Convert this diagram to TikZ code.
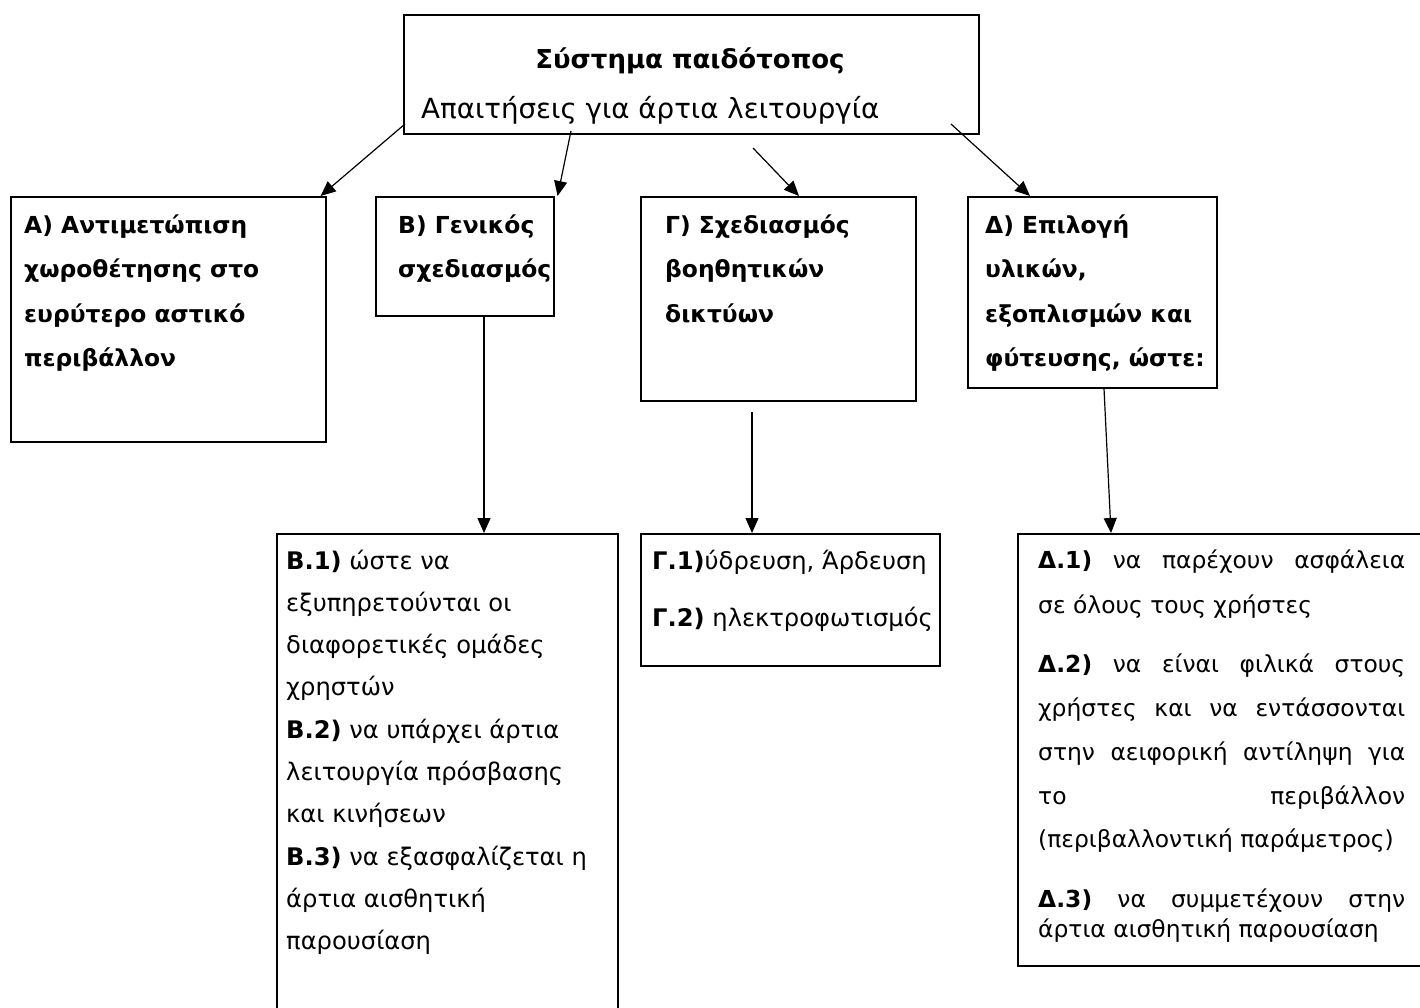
\documentclass[tikz,border=0pt]{standalone}
\usepackage{fontspec}
\setmainfont{DejaVu Sans}
\usetikzlibrary{arrows.meta,calc}
\begin{document}
\begin{tikzpicture}[x=1pt,y=-1pt,
  box/.style={draw, line width=1.6pt, inner sep=0pt, anchor=north west},
  ln/.style={anchor=base west, inner sep=0pt},
  hd/.style={ln, font=\fontsize{23.4}{28}\selectfont\bfseries},
  bd/.style={ln, font=\fontsize{24.2}{28}\selectfont},
  dd/.style={ln, font=\fontsize{23.4}{28}\selectfont},
  arr/.style={line width=1.2pt, -{Triangle[length=15pt,width=13pt]}}]
\useasboundingbox (0,0) rectangle (1420,1007);
\clip (0,0) rectangle (1420,1007);
% boxes
\node[box, minimum width=575pt, minimum height=119pt] (top) at (403,14) {};
\node[box, minimum width=315pt, minimum height=245pt] (A) at (10,196) {};
\node[box, minimum width=178pt, minimum height=119pt] (B) at (375,196) {};
\node[box, minimum width=275pt, minimum height=204pt] (G) at (640,196) {};
\node[box, minimum width=249pt, minimum height=191pt] (D) at (967,196) {};
\node[box, minimum width=341pt, minimum height=500pt] (B1) at (276,533) {};
\node[box, minimum width=299pt, minimum height=132pt] (G1) at (640,533) {};
\node[box, minimum width=405pt, minimum height=432pt] (D1) at (1017,533) {};
% top texts
\node[anchor=base, inner sep=0pt, font=\fontsize{26}{30}\selectfont\bfseries] (t1) at (690,68) {Σύστημα παιδότοπος};
\node[ln, font=\fontsize{27.7}{32}\selectfont] (t2) at (421,118) {Απαιτήσεις για άρτια λειτουργία};
% box A
\node[hd] (a1) at (24,233) {Α) Αντιμετώπιση};
\node[hd] (a2) at (24,277) {χωροθέτησης στο};
\node[hd] (a3) at (24,322) {ευρύτερο αστικό};
\node[hd] (a4) at (24,366) {περιβάλλον};
% box B
\node[hd] (b1) at (398,233) {Β) Γενικός};
\node[hd] (b2) at (398,277) {σχεδιασμός};
% box G
\node[hd] (g1) at (665,233) {Γ) Σχεδιασμός};
\node[hd] (g2) at (665,277) {βοηθητικών};
\node[hd] (g3) at (665,322) {δικτύων};
% box D
\node[hd] (d1) at (985,233) {Δ) Επιλογή};
\node[hd] (d2) at (985,277) {υλικών,};
\node[hd] (d3) at (985,322) {εξοπλισμών και};
\node[hd] (d4) at (985,366) {φύτευσης, ώστε:};
% box B1
\node[bd] (p1) at (286,569) {\textbf{Β.1)} ώστε να};
\node[bd] (p2) at (286,611) {εξυπηρετούνται οι};
\node[bd] (p3) at (286,653) {διαφορετικές ομάδες};
\node[bd] (p4) at (286,695) {χρηστών};
\node[bd] (p5) at (286,738) {\textbf{Β.2)} να υπάρχει άρτια};
\node[bd] (p6) at (286,780) {λειτουργία πρόσβασης};
\node[bd] (p7) at (286,822) {και κινήσεων};
\node[bd] (p8) at (286,865) {\textbf{Β.3)} να εξασφαλίζεται η};
\node[bd] (p9) at (286,907) {άρτια αισθητική};
\node[bd] (p10) at (286,949) {παρουσίαση};
% box G1
\node[bd] (q1) at (652,569) {\textbf{Γ.1)}ύδρευση, Άρδευση};
\node[bd] (q2) at (652,626) {\textbf{Γ.2)} ηλεκτροφωτισμός};
% box D1
\node[dd] (r1) at (1038,568) {\makebox[367pt][s]{\textbf{Δ.1)} να παρέχουν ασφάλεια}};
\node[dd] (r2) at (1038,613) {σε όλους τους χρήστες};
\node[dd] (r3) at (1038,672) {\makebox[367pt][s]{\textbf{Δ.2)} να είναι φιλικά στους}};
\node[dd] (r4) at (1038,716) {\makebox[367pt][s]{χρήστες και να εντάσσονται}};
\node[dd] (r5) at (1038,760) {\makebox[367pt][s]{στην αειφορική αντίληψη για}};
\node[dd] (r6) at (1038,804) {\makebox[367pt][s]{το περιβάλλον}};
\node[dd] (r7) at (1038,847) {(περιβαλλοντική παράμετρος)};
\node[dd] (r8) at (1038,907) {\makebox[367pt][s]{\textbf{Δ.3)} να συμμετέχουν στην}};
\node[dd] (r9) at (1038,937) {άρτια αισθητική παρουσίαση};
% connectors
\coordinate (sA) at (405,124);
\coordinate (sB) at (571,131);
\coordinate (sG) at (753,148);
\coordinate (sD) at (951,124);
\draw[arr] (sA) -- ($(A.north east)+(-6,0)$);
\draw[arr] (sB) -- ($(B.north east)+(3,0)$);
\draw[arr] (sG) -- ($(G.north west)+(159,0)$);
\draw[arr] (sD) -- ($(D.north west)+(63,0)$);
\coordinate (sG2) at (752,412);
\draw[arr] ($(B.south west)+(109,0)$) -- ($(B1.north west)+(208,0)$);
\draw[arr] (sG2) -- ($(G1.north west)+(112,0)$);
\draw[arr] ($(D.south west)+(137,0)$) -- ($(D1.north west)+(94,0)$);
\end{tikzpicture}
\end{document}
